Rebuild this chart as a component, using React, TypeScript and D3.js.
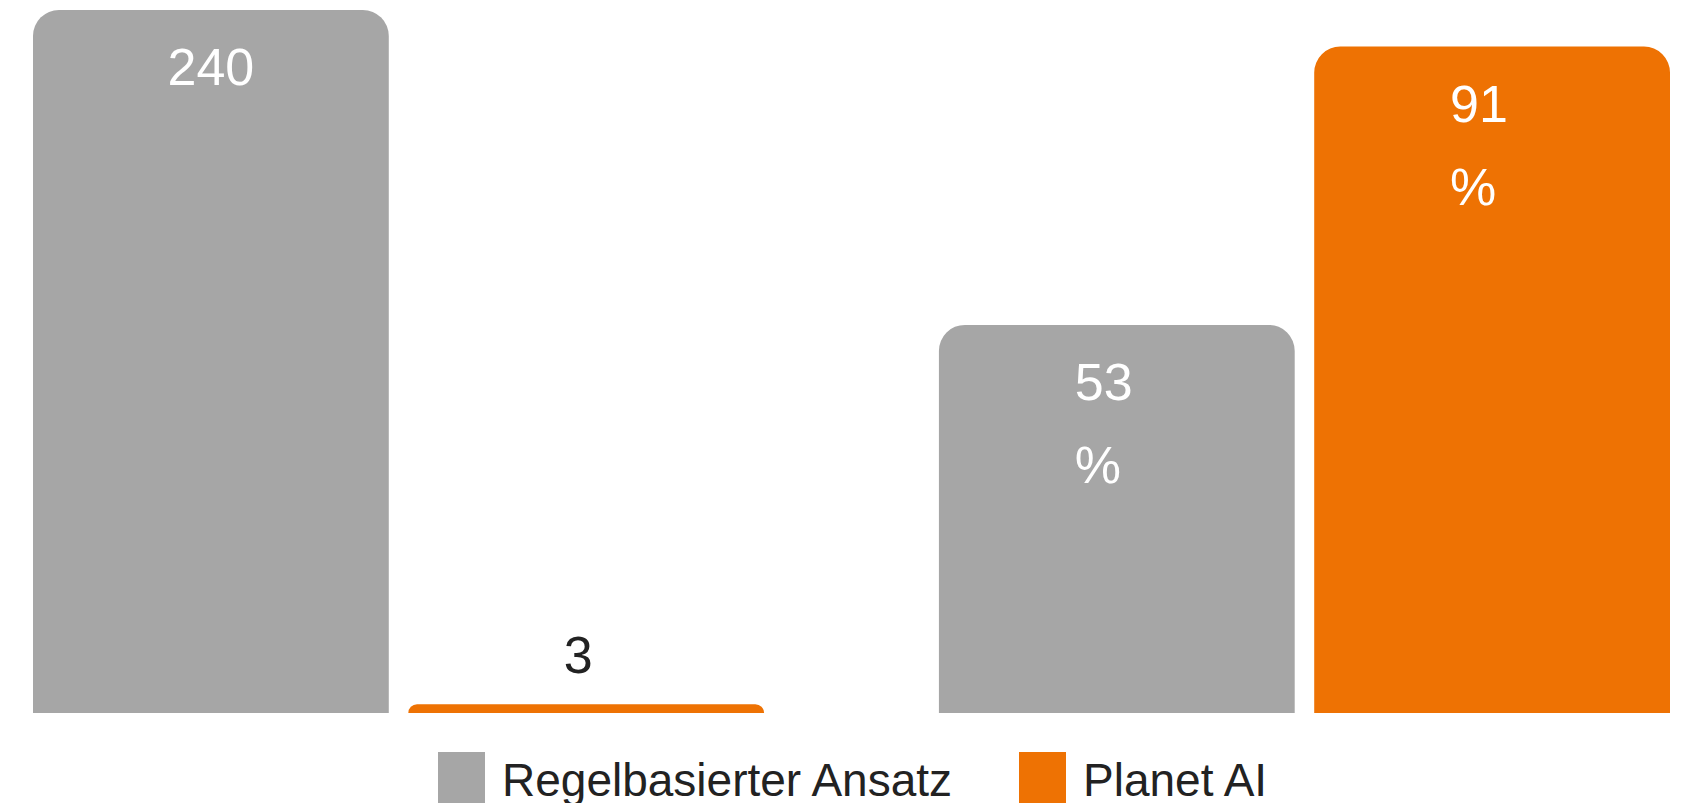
import React from 'react';
import * as d3 from 'd3';

// two comparisons, each with its own scale
const groups = ['Zeitaufwand', 'Genauigkeit'];
const seriesNames = ['Regelbasierter Ansatz', 'Planet AI'];
const seriesColors = ['#a6a6a6', '#ee7203'];
const valuesRule = [240, 53];
const valuesAI = [3, 91];
const units = ['', '%'];
const groupMax = [240, 96];

const W = 1691;
const H = 803;

function topRoundedBar(x: number, y: number, w: number, h: number, r: number) {
  const rr = Math.min(r, h, w / 2);
  const p = d3.path();
  p.moveTo(x, y + h);
  p.lineTo(x, y + rr);
  p.arcTo(x, y, x + rr, y, rr);
  p.lineTo(x + w - rr, y);
  p.arcTo(x + w, y, x + w, y + rr, rr);
  p.lineTo(x + w, y + h);
  p.closePath();
  return p.toString();
}

export default function App() {
  const top = 10;
  const bottom = 713;

  const x0 = d3.scaleBand<string>().domain(groups).range([33, 1670]).paddingInner(0.193).paddingOuter(0);
  const x1 = d3.scaleBand<string>().domain(seriesNames).range([0, x0.bandwidth()]).paddingInner(0.052);
  const yScales = groups.map((g, i) =>
    d3.scaleLinear().domain([0, groupMax[i]]).range([bottom, top])
  );

  const series = [valuesRule, valuesAI];

  return (
    <svg
      width={W}
      height={H}
      style={{ position: 'absolute', left: 0, top: 0, background: '#fff' }}
      fontFamily="'Liberation Sans', Arial, sans-serif"
    >
      {groups.map((g, gi) => (
        <g key={g} transform={`translate(${x0(g)},0)`}>
          {seriesNames.map((s, si) => {
            const v = series[si][gi];
            const y = yScales[gi](v);
            const bx = x1(s) as number;
            const bw = x1.bandwidth();
            const h = bottom - y;
            const cx = bx + bw / 2;
            const inside = h > 100;
            return (
              <g key={s}>
                <path d={topRoundedBar(bx, y, bw, h, 26)} fill={seriesColors[si]} />
                {inside ? (
                  units[gi] ? (
                    <text x={cx - 42} y={y + 75} fill="#fff" fontSize={52}>
                      <tspan x={cx - 42}>{v}</tspan>
                      <tspan x={cx - 42} dy={83}>{units[gi]}</tspan>
                    </text>
                  ) : (
                    <text x={cx} y={y + 75} fill="#fff" fontSize={52} textAnchor="middle">
                      {v}
                    </text>
                  )
                ) : (
                  <text x={cx - 8} y={y - 31} fill="#222" fontSize={52} textAnchor="middle">
                    {v}
                    {units[gi]}
                  </text>
                )}
              </g>
            );
          })}
        </g>
      ))}
      <g>
        {seriesNames.map((s, i) => {
          const lx = [438, 1019][i];
          return (
            <g key={s}>
              <rect x={lx} y={752} width={47} height={55} fill={seriesColors[i]} />
              <text x={lx + 64} y={796} fontSize={46} fill="#222">
                {s}
              </text>
            </g>
          );
        })}
      </g>
    </svg>
  );
}
